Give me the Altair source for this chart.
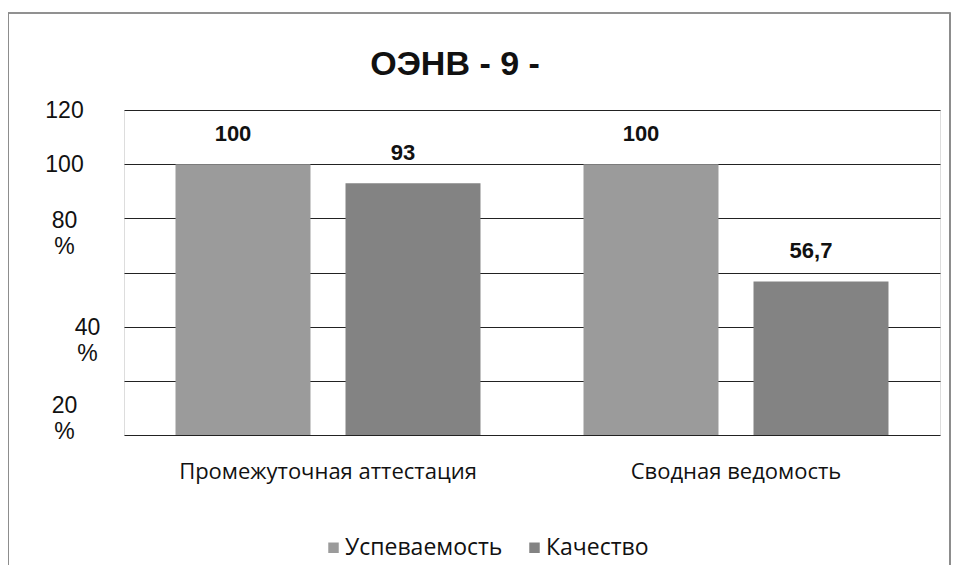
import altair as alt
import pandas as pd

categories = ["Промежуточная аттестация", "Промежуточная аттестация", "Сводная ведомость", "Сводная ведомость"]
series = ["Успеваемость", "Качество", "Успеваемость", "Качество"]
values = [100, 93, 100, 56.7]
series_order = ["Успеваемость", "Качество"]
cat_order = ["Промежуточная аттестация", "Сводная ведомость"]
colors = ["#9b9b9b", "#838383"]
y_ticks = [0, 20, 40, 60, 80, 100, 120]

df = pd.DataFrame({
    "cat": categories,
    "series": series,
    "value": values,
    "label": [("%g" % v).replace(".", ",") for v in values],
})

label_expr = ("datum.value == 120 ? '120' : datum.value == 100 ? '100' : "
              "datum.value == 80 ? ['80', '%'] : datum.value == 40 ? ['40', '%'] : "
              "datum.value == 20 ? ['20', '%'] : ''")

x = alt.X("cat:N", sort=cat_order, title=None,
          scale=alt.Scale(paddingInner=0, paddingOuter=0),
          axis=alt.Axis(labelAngle=0, labelFont="Open Sans", labelFontSize=22, labelLimit=0,
                        labelColor="#111", labelPadding=26, ticks=False, domain=False))
xo = alt.XOffset("series:N", sort=series_order,
                 scale=alt.Scale(paddingInner=0.206, paddingOuter=0.303))
y = alt.Y("value:Q", title=None,
          scale=alt.Scale(domain=[0, 120], nice=False),
          axis=alt.Axis(values=y_ticks, labelExpr=label_expr, ticks=False, domain=False,
                        grid=True, gridColor="#222", gridWidth=1,
                        labelFont="Liberation Sans", labelFontSize=23, labelColor="#111",
                        labelAlign="center", labelBaseline="middle", labelLineHeight=26,
                        labelPadding={"condition": {"test": "datum.value == 40", "value": 37}, "value": 60},
                        labelOffset={"condition": [
                            {"test": "datum.value == 80", "value": 2},
                            {"test": "datum.value == 40", "value": 1},
                            {"test": "datum.value == 20", "value": 25}], "value": 0}))

bars = alt.Chart(df).mark_bar().encode(
    x=x, xOffset=xo, y=y,
    color=alt.Color("series:N", sort=series_order,
                    scale=alt.Scale(domain=series_order, range=colors),
                    legend=alt.Legend(title=None, orient="none", direction="horizontal",
                                      legendX=198, legendY=426, symbolType="square",
                                      symbolSize=110, symbolStrokeWidth=0, labelLimit=0,
                                      labelFont="Open Sans", labelFontSize=23,
                                      labelColor="#111", columnPadding=20, labelOffset=0)),
)

labels = alt.Chart(df).mark_text(baseline="bottom", dy=-18, dx=-10, font="Liberation Sans",
                                 fontSize=22, fontWeight="bold", color="#111").encode(
    x=alt.X("cat:N", sort=cat_order), xOffset=alt.XOffset("series:N", sort=series_order),
    y="value:Q", text="label:N")

frame = alt.Chart(df).mark_rect(filled=False, stroke="#8a8a8a", strokeWidth=1.2, clip=False).encode(
    x=alt.value(-116), x2=alt.value(826), y=alt.value(-97), y2=alt.value(480))

chart = alt.layer(frame, bars, labels).properties(
    width=816, height=325,
    title=alt.TitleParams("ОЭНВ - 9 -", font="Liberation Sans", fontSize=34, fontWeight="bold",
                          color="#111", anchor="middle", dx=-77, offset=-70),
    autosize=alt.AutoSizeParams(type="none"),
    padding={"left": 116, "top": 102, "right": 12, "bottom": 130},
).configure_view(stroke=None).configure(background="white")

chart.save("out.html", embed_options={"renderer": "svg", "actions": False})
